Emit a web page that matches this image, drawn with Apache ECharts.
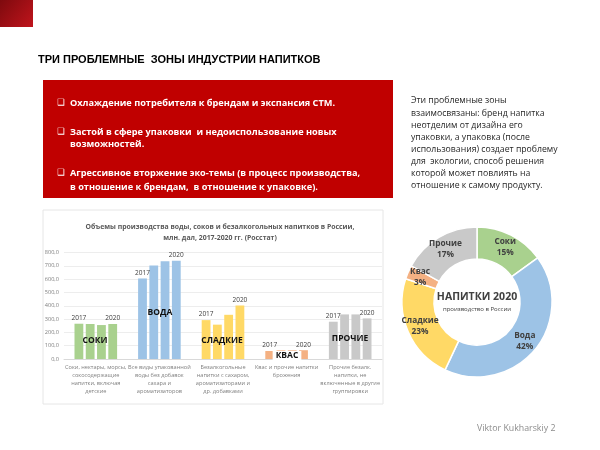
<!DOCTYPE html>
<html><head><meta charset="utf-8">
<script src="https://cdn.jsdelivr.net/npm/echarts@6/dist/echarts.min.js"></script>
<style>html,body{margin:0;padding:0;background:#fff}#c{width:600px;height:450px}</style>
</head><body><div id="c"></div>
<script>
const categories = [
  'Соки, нектары, морсы,\nсокосодержащие\nнапитки, включая\nдетские',
  'Все виды упакованной\nводы без добавок\nсахара и\nароматизаторов',
  'Безалкогольные\nнапитки с сахаром,\nароматизаторами и\nдр. добавками',
  'Квас и прочие напитки\nброжения',
  'Прочие безалк.\nнапитки, не\nвключенные в другие\nгруппировки'
];
const years = ['2017', '2018', '2019', '2020'];
const v2017 = [265, 605, 292, 60, 280];
const v2018 = [263, 702, 258, 65, 335];
const v2019 = [255, 735, 332, 65, 335];
const v2020 = [263, 738, 402, 66, 305];
const yTicks = [0, 100, 200, 300, 400, 500, 600, 700, 800];
const groupNames = ['СОКИ', 'ВОДА', 'СЛАДКИЕ', 'КВАС', 'ПРОЧИЕ'];
const pieNames = ['Соки', 'Вода', 'Сладкие', 'Квас', 'Прочие'];
const pieShares = [15, 42, 23, 3, 17];
const colors = ['#A9D18E', '#9DC3E6', '#FFD966', '#F4B183', '#C9C9C9'];

const bullets = [
  ['Охлаждение потребителя к брендам и экспансия СТМ.'],
  ['Застой в сфере упаковки  и недоиспользование новых', 'возможностей.'],
  ['Агрессивное вторжение эко-темы (в процесс производства,', 'в отношение к брендам,  в отношение к упаковке).']
];
const sideText = [
  'Эти проблемные зоны',
  'взаимосвязаны: бренд напитка',
  'неотделим от дизайна его',
  'упаковки, а упаковка (после',
  'использования) создает проблему',
  'для  экологии, способ решения',
  'которой может повлиять на',
  'отношение к самому продукту.'
];

const FF = '"Open Sans", "Noto Sans", sans-serif';
const chart = echarts.init(document.getElementById('c'), null, {renderer: 'canvas'});

const valuesByYear = [v2017, v2018, v2019, v2020];
const barSeries = years.map((y, i) => ({
  name: y,
  type: 'bar',
  barGap: '28%',
  barCategoryGap: '33%',
  data: valuesByYear[i].map((v, k) => ({value: v, itemStyle: {color: colors[k]}})),
  label: {
    show: i === 0 || i === 3,
    position: 'top',
    distance: 2,
    formatter: y,
    fontSize: 6.5,
    color: '#404040',
    fontFamily: FF
  },
  silent: true
}));

const graphics = [];
graphics.push({type: 'rect', shape: {x: 0, y: 0, width: 33, height: 27},
  style: {fill: new echarts.graphic.LinearGradient(0, 0, 1, 1, [{offset: 0, color: '#7E0A0E'}, {offset: 1, color: '#C0141C'}])}});
graphics.push({type: 'rect', shape: {x: 43, y: 80, width: 350, height: 118}, style: {fill: '#C00000'}});
let ys = [[103], [132, 144], [173, 187]];
bullets.forEach((b, i) => {
  graphics.push({type: 'text', x: 61, y: ys[i][0], style: {text: '❑', font: '8.5px "DejaVu Sans"', fill: '#fff', textAlign: 'center', textVerticalAlign: 'middle'}});
  b.forEach((line, j) => {
    graphics.push({type: 'text', x: 70, y: ys[i][j], style: {text: line, font: 'bold 9.2px ' + FF, fill: '#fff', textVerticalAlign: 'middle'}});
  });
});
sideText.forEach((t, i) => {
  graphics.push({type: 'text', x: 411, y: 101 + i * 12.1, style: {text: t, font: '8.7px ' + FF, fill: '#262626', textVerticalAlign: 'middle'}});
});
graphics.push({type: 'rect', shape: {x: 43, y: 210, width: 340, height: 194}, style: {fill: 'none', stroke: '#E6E6E6', lineWidth: 1}, z: -1});
const gpos = [[95, 341], [160, 313], [222, 341], [287, 356], [350, 339]];
groupNames.forEach((n, i) => {
  const isKvas = i === 3;
  graphics.push({type: 'text', x: gpos[i][0], y: gpos[i][1], z: 100,
    style: {text: n, font: 'bold 8.5px ' + FF, fill: '#111', textAlign: 'center', textVerticalAlign: 'middle',
      backgroundColor: isKvas ? '#fff' : 'transparent', padding: isKvas ? [1, 3, 0, 3] : 0}});
});
graphics.push({type: 'text', x: 477, y: 297, style: {text: 'НАПИТКИ 2020', font: 'bold 10.5px ' + FF, fill: '#404040', textAlign: 'center', textVerticalAlign: 'middle'}});
graphics.push({type: 'text', x: 477, y: 309, style: {text: 'производство в России', font: '6px ' + FF, fill: '#404040', textAlign: 'center', textVerticalAlign: 'middle'}});
graphics.push({type: 'text', x: 477, y: 428, style: {text: 'Viktor Kukharskiy 2', font: '8.8px ' + FF, fill: '#8C8C8C', textVerticalAlign: 'middle'}});

const option = {
  animation: false,
  title: [
    {text: 'ТРИ ПРОБЛЕМНЫЕ  ЗОНЫ ИНДУСТРИИ НАПИТКОВ', left: 33, top: 49,
      textStyle: {fontFamily: '"Liberation Sans", Arial, sans-serif', fontSize: 11, fontWeight: 'bold', color: '#000'}},
    {text: 'Объемы производства воды, соков и безалкогольных напитков в России,\nмлн. дал, 2017-2020 гг. (Росстат)',
      left: 215, textAlign: 'center', top: 216,
      textStyle: {fontFamily: FF, fontSize: 6.9, fontWeight: 'bold', color: '#595959', lineHeight: 11.5}}
  ],
  grid: {left: 64, right: 218, top: 252.5, bottom: 91},
  xAxis: {
    type: 'category', data: categories,
    axisLine: {lineStyle: {color: '#D9D9D9'}},
    axisTick: {show: false},
    axisLabel: {interval: 0, fontSize: 5.6, lineHeight: 8, color: '#7F7F7F', fontFamily: FF, margin: 4}
  },
  yAxis: {
    type: 'value', min: 0, max: 800, interval: 100,
    axisLine: {show: false}, axisTick: {show: false},
    splitLine: {lineStyle: {color: '#EDEDED'}},
    axisLabel: {fontSize: 5.6, color: '#7F7F7F', fontFamily: FF, margin: 5,
      formatter: v => yTicks.includes(v) ? v.toFixed(1).replace('.', ',') : ''}
  },
  series: [
    ...barSeries,
    {
      type: 'pie', center: [477, 302], radius: [43, 75], startAngle: 90, clockwise: true,
      silent: true,
      itemStyle: {borderColor: '#fff', borderWidth: 1.5},
      label: {show: true, position: 'inside', formatter: '{b}\n{c}%', fontSize: 8.3, fontWeight: 'bold',
        color: '#404040', fontFamily: FF, lineHeight: 11},
      labelLine: {show: false},
      data: pieNames.map((n, i) => ({name: n, value: pieShares[i], itemStyle: {color: colors[i]}}))
    }
  ],
  graphic: graphics
};
chart.setOption(option);
</script></body></html>
